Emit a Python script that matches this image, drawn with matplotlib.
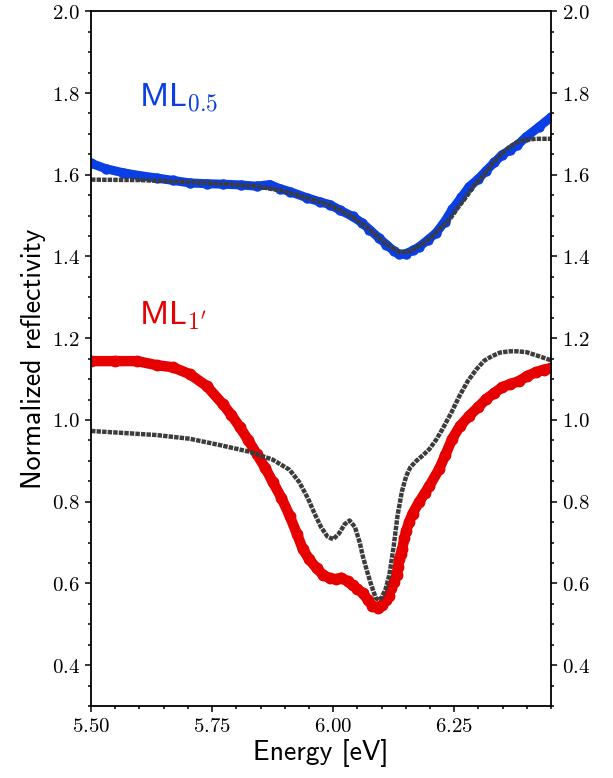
import numpy as np
import matplotlib
matplotlib.use('Agg')
import matplotlib.pyplot as plt
from matplotlib.ticker import MultipleLocator, FormatStrFormatter

plt.rcParams['mathtext.fontset'] = 'cm'
plt.rcParams['font.family'] = 'cmss10'
plt.rcParams['axes.unicode_minus'] = False

# ML 0.5 data (blue) and its fit (gray)
e_blue = [5.50, 5.53, 5.566, 5.60, 5.636, 5.67, 5.704, 5.74, 5.772, 5.81, 5.842,
          5.869, 5.89, 5.910, 5.945, 5.972, 5.993, 6.015, 6.040, 6.06, 6.075,
          6.095, 6.110, 6.125, 6.137, 6.150, 6.165, 6.178, 6.195, 6.213, 6.23,
          6.246, 6.265, 6.281, 6.30, 6.316, 6.333, 6.349, 6.365, 6.38, 6.399,
          6.425, 6.45]
r_blue = [1.628, 1.615, 1.605, 1.598, 1.592, 1.586, 1.580, 1.578, 1.577, 1.575, 1.572,
          1.576, 1.566, 1.559, 1.544, 1.534, 1.527, 1.513, 1.498, 1.482, 1.466,
          1.445, 1.429, 1.414, 1.405, 1.407, 1.415, 1.424, 1.440, 1.458, 1.485,
          1.515, 1.545, 1.571, 1.590, 1.610, 1.630, 1.649, 1.660, 1.672, 1.693,
          1.717, 1.741]

e_fit1 = [5.50, 5.60, 5.70, 5.77, 5.84, 5.90, 5.94, 5.972, 6.00, 6.04, 6.075,
          6.11, 6.137, 6.16, 6.172, 6.19, 6.205, 6.22, 6.24, 6.258, 6.275, 6.29,
          6.308, 6.33, 6.345, 6.364, 6.38, 6.40, 6.42, 6.45]
r_fit1 = [1.588, 1.587, 1.582, 1.578, 1.572, 1.560, 1.545, 1.534, 1.522, 1.497, 1.466,
          1.430, 1.410, 1.413, 1.422, 1.435, 1.449, 1.468, 1.490, 1.520, 1.546, 1.572,
          1.595, 1.628, 1.648, 1.668, 1.680, 1.686, 1.688, 1.688]

# ML 1' data (red) and its fit (gray)
e_red = [5.50, 5.55, 5.595, 5.636, 5.669, 5.704, 5.739, 5.772, 5.79, 5.807, 5.825,
         5.842, 5.86, 5.875, 5.893, 5.910, 5.925, 5.937, 5.95, 5.966, 5.98, 5.993,
         6.005, 6.017, 6.030, 6.040, 6.050, 6.061, 6.072, 6.081, 6.092, 6.100,
         6.110, 6.115, 6.120, 6.125, 6.131, 6.134, 6.137, 6.140, 6.143, 6.147,
         6.151, 6.157, 6.164, 6.178, 6.19, 6.199, 6.219, 6.232, 6.246, 6.262,
         6.281, 6.30, 6.316, 6.333, 6.349, 6.366, 6.384, 6.40, 6.419, 6.435, 6.45]
r_red = [1.144, 1.144, 1.144, 1.134, 1.129, 1.112, 1.083, 1.039, 1.012, 0.983, 0.950,
         0.917, 0.882, 0.849, 0.810, 0.766, 0.722, 0.685, 0.660, 0.637, 0.620, 0.613,
         0.610, 0.614, 0.605, 0.595, 0.587, 0.576, 0.560, 0.546, 0.541, 0.547,
         0.559, 0.570, 0.588, 0.603, 0.620, 0.640, 0.661, 0.673, 0.685, 0.710,
         0.729, 0.750, 0.771, 0.800, 0.822, 0.839, 0.880, 0.915, 0.954, 0.985,
         1.010, 1.032, 1.051, 1.066, 1.080, 1.088, 1.095, 1.107, 1.117, 1.123, 1.127]

e_fit2 = [5.50, 5.57, 5.636, 5.704, 5.772, 5.828, 5.875, 5.910, 5.930, 5.948, 5.962,
          5.975, 5.988, 6.000, 6.012, 6.024, 6.034, 6.045, 6.055, 6.061, 6.070,
          6.079, 6.088, 6.094, 6.100, 6.108, 6.116, 6.125, 6.133, 6.142, 6.151,
          6.160, 6.172, 6.185, 6.199, 6.213, 6.226, 6.245, 6.261, 6.278, 6.296,
          6.312, 6.328, 6.345, 6.364, 6.38, 6.399, 6.42, 6.45]
r_fit2 = [0.973, 0.968, 0.963, 0.954, 0.937, 0.922, 0.903, 0.878, 0.848, 0.808, 0.770,
          0.738, 0.715, 0.708, 0.722, 0.745, 0.754, 0.738, 0.700, 0.668, 0.630,
          0.595, 0.565, 0.559, 0.565, 0.585, 0.620, 0.690, 0.766, 0.825, 0.863,
          0.885, 0.900, 0.913, 0.929, 0.952, 0.978, 1.020, 1.059, 1.095, 1.124,
          1.145, 1.156, 1.165, 1.168, 1.168, 1.166, 1.158, 1.146]

blue = '#0a3fe6'
red = '#e60000'
gray = '#3c3c3c'

fig = plt.figure(figsize=(6.13, 7.78), dpi=100)
ax = fig.add_axes([0.1485, 0.0925, 0.7504, 0.893])

ax.plot(e_blue, r_blue, color=blue, lw=6.5, marker='o', ms=6.5, solid_capstyle='round')
ax.plot(e_fit1, r_fit1, color=gray, lw=3.2, ls=(0, (1.0, 0.25)))
ax.plot(e_red, r_red, color=red, lw=7.5, marker='o', ms=7.5, solid_capstyle='round')
ax.plot(e_fit2, r_fit2, color=gray, lw=3.2, ls=(0, (1.0, 0.25)))

ax.text(5.60, 1.79, r'ML$_{0.5}$', color=blue, fontsize=24, va='center')
ax.text(5.60, 1.255, r"ML$_{1'}$", color=red, fontsize=24, va='center')

ax.set_xlim(5.5, 6.45)
ax.set_ylim(0.3, 2.0)
ax.xaxis.set_major_locator(MultipleLocator(0.25))
ax.xaxis.set_minor_locator(MultipleLocator(0.05))
ax.yaxis.set_major_locator(MultipleLocator(0.2))
ax.yaxis.set_minor_locator(MultipleLocator(0.05))
ax.xaxis.set_major_formatter(FormatStrFormatter(r'$%.2f$'))
ax.yaxis.set_major_formatter(FormatStrFormatter(r'$%.1f$'))
ax.tick_params(which='both', direction='out', labelsize=15, top=False,
               right=True, labelright=True, width=1.1)
ax.tick_params(which='major', length=4.5)
ax.tick_params(which='minor', length=2.5)
for s in ax.spines.values():
    s.set_linewidth(1.3)

ax.set_xlabel('Energy [eV]', fontsize=20, labelpad=2)
ax.set_ylabel('Normalized reflectivity', fontsize=20, labelpad=4)

fig.savefig('out.png', dpi=100)
